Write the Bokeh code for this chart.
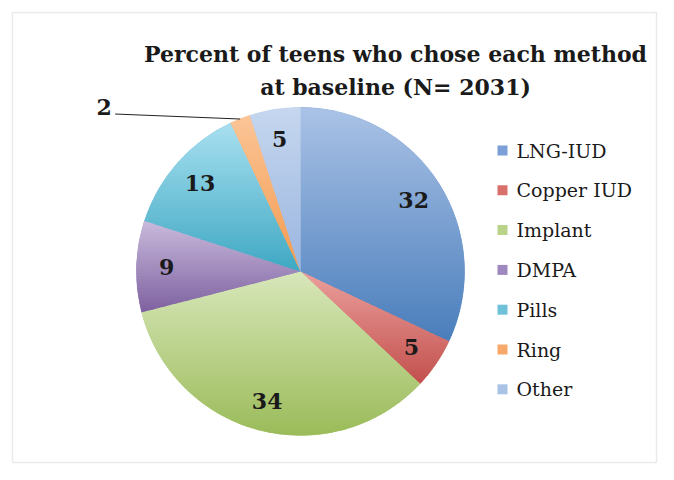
import math
from bokeh.plotting import figure
from bokeh.models import Range1d, ColumnDataSource, BoxAnnotation
from bokeh.core.properties import value
from bokeh.embed import file_html
from bokeh.resources import INLINE

# ---- data ----
methods = ["LNG-IUD", "Copper IUD", "Implant", "DMPA", "Pills", "Ring", "Other"]
percents = [32, 5, 34, 9, 13, 2, 5]
title_lines = ["Percent of teens who chose each method", "at baseline (N= 2031)"]
outside_labels = ["Ring"]

# ---- styles ----
colors = ["#7b9fd6", "#d9706c", "#b9d38a", "#9f88c0", "#6fc0d9", "#f7a86a", "#a9c3e6"]
top_colors = ["#aac2e6", "#eba09d", "#d8e7bb", "#cabbdd", "#a9e0f0", "#fbc597", "#c6d7ef"]
bottom_colors = ["#4a7ebb", "#c2504d", "#9bbb59", "#7e62a0", "#3fa8c3", "#f39a4e", "#9ab5df"]

# ---- layout constants (data units = screen pixels, y measured upward from 480) ----
W, H = 658, 464
CX, CY, R = 300, 480 - 271, 164
LABEL_R = 134
SERIF = "DejaVu Serif"
BAND = 3.0

p = figure(width=W, height=H, output_backend="svg", toolbar_location=None,
           x_range=Range1d(0, W), y_range=Range1d(480 - H, 480),
           min_border=0, outline_line_color=None)
p.axis.visible = False
p.grid.visible = False
p.background_fill_color = "white"
p.border_fill_color = "white"

total = sum(percents)
starts, ends, mids = [], [], []
cum = 0.0
for v in percents:
    a0 = math.pi / 2 - 2 * math.pi * cum / total
    cum += v
    a1 = math.pi / 2 - 2 * math.pi * cum / total
    starts.append(a0)
    ends.append(a1)
    mids.append((a0 + a1) / 2)

# base wedges (flat colour)
src = ColumnDataSource(dict(start=starts, end=ends, color=colors, method=methods))
p.wedge(x=CX, y=CY, radius=R, start_angle="start", end_angle="end",
        direction="clock", fill_color="color", line_color="color",
        line_width=0.5, source=src)


# vertical gradient shading of each slice, built from the same angles
def hex2rgb(h):
    h = h.lstrip("#")
    return tuple(int(h[i:i + 2], 16) for i in (0, 2, 4))


def mix(c1, c2, t):
    a, b = hex2rgb(c1), hex2rgb(c2)
    return "#%02x%02x%02x" % tuple(int(round(a[i] + (b[i] - a[i]) * t)) for i in range(3))


def clip(poly, y, keep_above):
    out = []
    n = len(poly)
    for i in range(n):
        P, Q = poly[i], poly[(i + 1) % n]
        inP = P[1] >= y if keep_above else P[1] <= y
        inQ = Q[1] >= y if keep_above else Q[1] <= y
        if inP:
            out.append(P)
        if inP != inQ:
            t = (y - P[1]) / (Q[1] - P[1])
            out.append((P[0] + t * (Q[0] - P[0]), y))
    return out


band_xs, band_ys, band_cs = [], [], []
for a0, a1, ct, cb in zip(starts, ends, top_colors, bottom_colors):
    nseg = max(6, int(abs(a0 - a1) * 180 / math.pi))
    poly = [(CX, CY)] + [(CX + R * math.cos(a0 + (a1 - a0) * k / nseg),
                          CY + R * math.sin(a0 + (a1 - a0) * k / nseg)) for k in range(nseg + 1)]
    ymin = min(pt[1] for pt in poly)
    ymax = max(pt[1] for pt in poly)
    span = ymax - ymin
    nb = max(1, int(math.ceil(span / BAND)))
    for k in range(nb):
        yhi = ymax - k * span / nb
        ylo = ymax - (k + 1) * span / nb
        piece = clip(clip(poly, ylo - 0.6, True), yhi + 0.6, False)
        if len(piece) < 3:
            continue
        t = (ymax - (yhi + ylo) / 2) / span
        band_xs.append([pt[0] for pt in piece])
        band_ys.append([pt[1] for pt in piece])
        band_cs.append(mix(ct, cb, t))

p.patches(xs=band_xs, ys=band_ys, fill_color=band_cs, line_color=None)

# data labels
lx, ly, lt = [], [], []
ox, oy, ot, lead_x0, lead_y0, lead_x1, lead_y1 = [], [], [], [], [], [], []
for m, v, a in zip(methods, percents, mids):
    if m in outside_labels:
        ex = CX + R * math.cos(a)
        ey = CY + R * math.sin(a)
        lead_x0.append(ex - 125)
        lead_y0.append(ey + 5)
        lead_x1.append(ex)
        lead_y1.append(ey)
        ox.append(ex - 136)
        oy.append(ey + 12)
        ot.append(str(v))
    else:
        lx.append(CX + LABEL_R * math.cos(a))
        ly.append(CY + LABEL_R * math.sin(a))
        lt.append(str(v))

p.text(x=lx, y=ly, text=lt, text_font=value(SERIF), text_font_style="bold",
       text_font_size="22px", text_align="center", text_baseline="middle",
       text_color="#1a1a1a")
p.segment(x0=lead_x0, y0=lead_y0, x1=lead_x1, y1=lead_y1,
          line_color="#222222", line_width=1)
p.text(x=ox, y=oy, text=ot, text_font=value(SERIF), text_font_style="bold",
       text_font_size="22px", text_align="center", text_baseline="middle",
       text_color="#1a1a1a")

# legend
LEG_X, LEG_Y0, LEG_DY = 502, 480 - 150, 39.8
leg_y = [LEG_Y0 - i * LEG_DY for i in range(len(methods))]
p.scatter(x=[LEG_X] * len(methods), y=leg_y, marker="square", size=10,
          fill_color=colors, line_color=None)
p.text(x=[LEG_X + 14] * len(methods), y=leg_y, text=methods,
       text_font=value(SERIF), text_font_size="19px",
       text_align="left", text_baseline="middle", text_color="#1a1a1a")

# title (two lines)
p.text(x=[395, 395], y=[480 - 53, 480 - 86], text=title_lines, text_font=value(SERIF),
       text_font_style="bold", text_font_size="22px", text_align="center",
       text_baseline="middle", text_color="#1a1a1a")

# chart border
p.add_layout(BoxAnnotation(left=12, right=656, bottom=480 - 462, top=480 - 12,
                           fill_alpha=0, line_color="#b8b8b8", line_width=1.5))

open("out.html", "w").write(file_html(p, INLINE))
